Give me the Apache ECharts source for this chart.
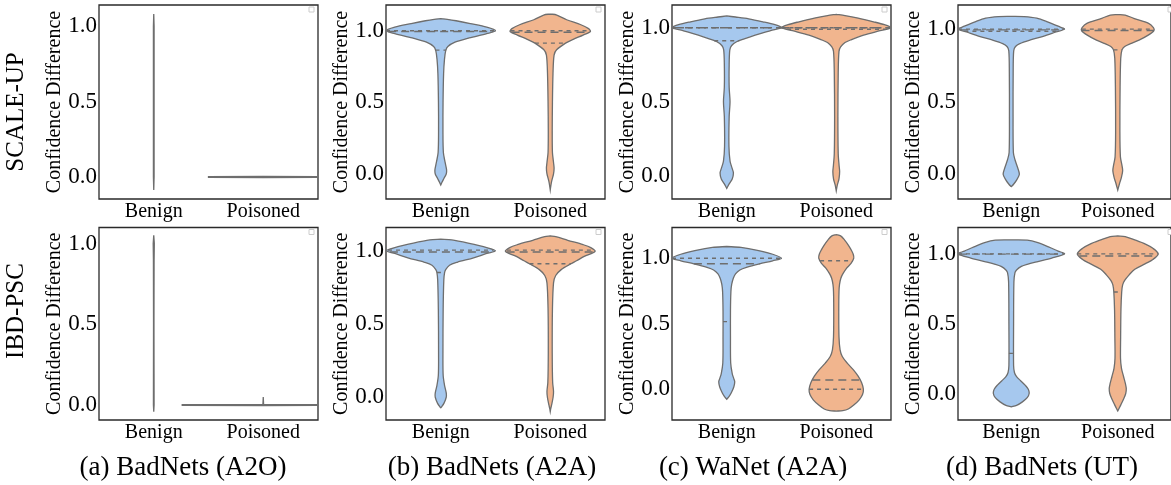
<!DOCTYPE html>
<html>
<head>
<meta charset="utf-8">
<script src="https://cdn.jsdelivr.net/npm/echarts@6/dist/echarts.min.js"></script>
<style>
  html, body { margin: 0; padding: 0; background: #fff; }
  #chart { width: 1171px; height: 485px; }
</style>
</head>
<body>
<div id="chart"></div>
<script>
const categories = ['Benign', 'Poisoned'];
const yTicks = [0, 0.5, 1.0];
const rowLabels = ['SCALE-UP', 'IBD-PSC'];
const panelTitles = ['(a) BadNets (A2O)', '(b) BadNets (A2A)', '(c) WaNet (A2A)', '(d) BadNets (UT)'];

// y axis ranges, top row then bottom row, panels a..d
const yRanges = [
  [-0.146, 1.139], [-0.175, 1.18], [-0.155, 1.153], [-0.17, 1.166],
  [-0.093, 1.099], [-0.155, 1.157], [-0.234, 1.234], [-0.19, 1.189]
];

// violin outlines: [value, half width in category units]
const upA2OBenign = [[1.08, 0], [1.0, 0.003], [0.5, 0.003], [0.0, 0.003], [-0.086, 0]];
const upA2OPoisoned = [[0.004, 0], [0.002, 0.5], [-0.002, 0.5], [-0.004, 0]];
const upA2ABenign = [[1.085, 0], [1.08, 0.06], [1.07, 0.14], [1.05, 0.27], [1.025, 0.42], [1.0, 0.5], [0.98, 0.42], [0.95, 0.26], [0.92, 0.13], [0.89, 0.065], [0.86, 0.045], [0.8, 0.034], [0.7, 0.026], [0.5, 0.021], [0.3, 0.02], [0.15, 0.024], [0.08, 0.04], [0.03, 0.053], [0.0, 0.05], [-0.03, 0.03], [-0.06, 0.01], [-0.077, 0]];
const upA2APoisoned = [[1.117, 0], [1.11, 0.06], [1.077, 0.15], [1.042, 0.28], [1.015, 0.35], [0.995, 0.367], [0.97, 0.3], [0.94, 0.21], [0.914, 0.14], [0.867, 0.058], [0.83, 0.035], [0.7, 0.025], [0.5, 0.02], [0.3, 0.018], [0.15, 0.02], [0.08, 0.03], [0.04, 0.035], [0.0, 0.03], [-0.05, 0.013], [-0.09, 0.004], [-0.112, 0]];
const upWaNetBenign = [[1.079, 0], [1.072, 0.08], [1.06, 0.2], [1.04, 0.33], [1.02, 0.44], [1.0, 0.5], [0.98, 0.4], [0.95, 0.26], [0.925, 0.16], [0.905, 0.09], [0.88, 0.045], [0.85, 0.028], [0.75, 0.022], [0.6, 0.022], [0.5, 0.03], [0.4, 0.022], [0.2, 0.02], [0.1, 0.03], [0.05, 0.05], [0.02, 0.061], [-0.02, 0.05], [-0.05, 0.025], [-0.083, 0]];
const upWaNetPoisoned = [[1.09, 0], [1.082, 0.08], [1.065, 0.2], [1.04, 0.34], [1.02, 0.44], [1.0, 0.5], [0.98, 0.4], [0.95, 0.25], [0.92, 0.14], [0.9, 0.08], [0.87, 0.04], [0.84, 0.025], [0.7, 0.018], [0.4, 0.015], [0.15, 0.018], [0.07, 0.026], [0.03, 0.031], [-0.02, 0.025], [-0.06, 0.01], [-0.1, 0]];
const upUTBenign = [[1.088, 0], [1.086, 0.12], [1.075, 0.24], [1.05, 0.34], [1.02, 0.44], [1.0, 0.5], [0.98, 0.42], [0.95, 0.3], [0.925, 0.18], [0.9, 0.08], [0.88, 0.04], [0.85, 0.023], [0.7, 0.018], [0.4, 0.017], [0.15, 0.02], [0.1, 0.035], [0.05, 0.058], [0.0, 0.076], [-0.04, 0.05], [-0.07, 0.02], [-0.085, 0]];
const upUTPoisoned = [[1.1, 0], [1.097, 0.07], [1.074, 0.15], [1.04, 0.29], [1.01, 0.335], [0.99, 0.34], [0.96, 0.29], [0.924, 0.2], [0.9, 0.12], [0.88, 0.065], [0.857, 0.04], [0.8, 0.028], [0.6, 0.022], [0.3, 0.02], [0.12, 0.025], [0.06, 0.04], [0.025, 0.046], [-0.02, 0.035], [-0.06, 0.018], [-0.108, 0]];

const psA2OBenign = [[1.05, 0], [1.0, 0.005], [0.9, 0.003], [0.5, 0.002], [0.0, 0.003], [-0.041, 0]];
const psA2OPoisoned = [[0.05, 0], [0.004, 0.003], [0.002, 0.74], [-0.002, 0.74], [-0.004, 0]];
const psA2ABenign = [[1.078, 0], [1.072, 0.1], [1.05, 0.25], [1.02, 0.42], [0.998, 0.5], [0.98, 0.42], [0.95, 0.3], [0.92, 0.15], [0.9, 0.08], [0.87, 0.045], [0.85, 0.035], [0.8, 0.028], [0.6, 0.022], [0.3, 0.02], [0.15, 0.022], [0.08, 0.035], [0.03, 0.05], [0.0, 0.05], [-0.04, 0.03], [-0.065, 0.008], [-0.071, 0]];
const psA2APoisoned = [[1.1, 0], [1.095, 0.05], [1.07, 0.16], [1.04, 0.3], [1.02, 0.37], [0.994, 0.41], [0.96, 0.31], [0.93, 0.24], [0.91, 0.19], [0.87, 0.1], [0.83, 0.05], [0.78, 0.03], [0.6, 0.02], [0.3, 0.018], [0.1, 0.022], [0.04, 0.03], [0.0, 0.026], [-0.05, 0.013], [-0.08, 0.004], [-0.098, 0]];
const psWaNetBenign = [[1.089, 0], [1.082, 0.13], [1.06, 0.28], [1.03, 0.42], [1.0, 0.5], [0.98, 0.42], [0.957, 0.3], [0.93, 0.18], [0.91, 0.12], [0.88, 0.08], [0.847, 0.06], [0.8, 0.045], [0.745, 0.038], [0.6, 0.034], [0.4, 0.034], [0.2, 0.036], [0.12, 0.05], [0.08, 0.065], [0.058, 0.073], [0.02, 0.065], [-0.02, 0.045], [-0.05, 0.025], [-0.076, 0]];
const psWaNetPoisoned = [[1.18, 0], [1.17, 0.04], [1.14, 0.075], [1.1, 0.11], [1.065, 0.135], [1.03, 0.155], [1.0, 0.16], [0.96, 0.135], [0.924, 0.095], [0.88, 0.06], [0.847, 0.042], [0.8, 0.03], [0.745, 0.025], [0.6, 0.023], [0.4, 0.025], [0.3, 0.035], [0.25, 0.055], [0.2, 0.1], [0.15, 0.155], [0.1, 0.2], [0.05, 0.232], [0.0, 0.248], [-0.04, 0.24], [-0.08, 0.21], [-0.12, 0.16], [-0.15, 0.11], [-0.163, 0.06], [-0.166, 0]];
const psUTBenign = [[1.1, 0], [1.098, 0.15], [1.08, 0.25], [1.05, 0.35], [1.02, 0.44], [1.0, 0.5], [0.97, 0.38], [0.945, 0.25], [0.925, 0.15], [0.91, 0.095], [0.885, 0.05], [0.866, 0.035], [0.8, 0.025], [0.5, 0.022], [0.2, 0.022], [0.15, 0.03], [0.12, 0.05], [0.09, 0.09], [0.06, 0.13], [0.03, 0.16], [0.0, 0.168], [-0.03, 0.15], [-0.06, 0.105], [-0.085, 0.05], [-0.096, 0]];
const psUTPoisoned = [[1.129, 0], [1.124, 0.07], [1.1, 0.16], [1.07, 0.26], [1.04, 0.33], [1.0, 0.38], [0.96, 0.33], [0.93, 0.26], [0.89, 0.16], [0.85, 0.107], [0.81, 0.065], [0.778, 0.046], [0.727, 0.037], [0.6, 0.03], [0.4, 0.027], [0.25, 0.026], [0.18, 0.035], [0.12, 0.055], [0.07, 0.072], [0.036, 0.08], [0.0, 0.075], [-0.04, 0.055], [-0.08, 0.03], [-0.125, 0]];

// quartiles: [q1, median, q3]
const upA2AQuart = [[0.865, 0.995, 1.0], [0.914, 0.99, 1.0]];
const upWaNetQuart = [[0.912, 1.0, 1.0], [0.99, 1.0, 1.0]];
const upUTQuart = [[0.985, 0.995, 1.0], [0.857, 0.99, 1.0]];
const psA2AQuart = [[0.85, 0.99, 1.003], [0.91, 0.99, 1.003]];
const psWaNetQuart = [[0.516, 0.957, 1.0], [0.0, 0.071, 0.98]];
const psUTQuart = [[0.287, 0.998, 1.0], [0.727, 0.985, 1.0]];

const panels = [
  {shapes: [upA2OBenign, upA2OPoisoned], quart: null},
  {shapes: [upA2ABenign, upA2APoisoned], quart: upA2AQuart},
  {shapes: [upWaNetBenign, upWaNetPoisoned], quart: upWaNetQuart},
  {shapes: [upUTBenign, upUTPoisoned], quart: upUTQuart},
  {shapes: [psA2OBenign, psA2OPoisoned], quart: null},
  {shapes: [psA2ABenign, psA2APoisoned], quart: psA2AQuart},
  {shapes: [psWaNetBenign, psWaNetPoisoned], quart: psWaNetQuart},
  {shapes: [psUTBenign, psUTPoisoned], quart: psUTQuart}
];

const fills = ['#a6c8ee', '#f1b58e'];
const serif = '"Liberation Serif", "Times New Roman", serif';
const lefts = [99, 386, 672, 958];
const tops = [5, 227.5];
const heights = [194, 192.5];

function widthAt(shape, v) {
  for (let i = 0; i < shape.length - 1; i++) {
    const [y0, w0] = shape[i], [y1, w1] = shape[i + 1];
    if (v <= y0 && v >= y1) {
      return y0 === y1 ? Math.max(w0, w1) : w0 + (w1 - w0) * (y0 - v) / (y0 - y1);
    }
  }
  return 0;
}

function makeRender(p) {
  return function (params, api) {
    const cat = api.value(0);
    const shape = panels[p].shapes[cat];
    const band = api.size([1, 0])[0];
    const cx = api.coord([cat, 0])[0];
    const py = y => api.coord([cat, y])[1];
    const right = shape.map(([y, w]) => [cx + w * band, py(y)]);
    const left = shape.slice().reverse().map(([y, w]) => [cx - w * band, py(y)]);
    const thin = !panels[p].quart;
    const children = [{
      type: 'polygon',
      shape: {points: right.concat(left), smooth: thin ? 0 : 0.3},
      style: {fill: thin ? '#6e6e6e' : fills[cat], stroke: '#6e6e6e', lineWidth: 1.3}
    }];
    if (panels[p].quart) {
      panels[p].quart[cat].forEach((q, k) => {
        const w = widthAt(shape, q) * band;
        children.push({
          type: 'line',
          shape: {x1: cx - w, y1: py(q), x2: cx + w, y2: py(q)},
          style: {stroke: '#6e6e6e', lineWidth: 1.4, lineDash: k === 1 ? [8, 5] : [4, 4]}
        });
      });
    }
    return {type: 'group', children: children};
  };
}

const grid = [], xAxis = [], yAxis = [], series = [], graphic = [];
panels.forEach((panel, i) => {
  const row = Math.floor(i / 4), col = i % 4;
  grid.push({
    left: lefts[col], top: tops[row], width: 219, height: heights[row],
    show: true, borderColor: '#2a2a2a', borderWidth: 1.3, backgroundColor: 'transparent'
  });
  xAxis.push({
    type: 'category', gridIndex: i, data: categories,
    axisLine: {show: false}, axisTick: {show: false}, splitLine: {show: false},
    axisLabel: {fontFamily: serif, fontSize: 20, color: '#000', margin: 3}
  });
  yAxis.push({
    type: 'value', gridIndex: i, min: yRanges[i][0], max: yRanges[i][1],
    axisLine: {show: false}, axisTick: {show: false}, splitLine: {show: false},
    axisLabel: {
      customValues: yTicks, fontFamily: serif, fontSize: 23, color: '#000', margin: 2,
      formatter: v => v.toFixed(1)
    },
    name: 'Confidence Difference', nameLocation: 'middle', nameGap: 34,
    nameTextStyle: {fontFamily: serif, fontSize: 20, color: '#000'}
  });
  series.push({
    type: 'custom', xAxisIndex: i, yAxisIndex: i, clip: true,
    renderItem: makeRender(i),
    data: [[0, 0.5], [1, 0.5]],
    encode: {x: 0, y: 1}
  });
  graphic.push({
    type: 'rect', silent: true,
    shape: {x: lefts[col] + 219 - 9, y: tops[row] + 2, width: 5, height: 5},
    style: {fill: '#fff', stroke: '#ccc', lineWidth: 1}
  });
});

rowLabels.forEach((t, r) => {
  graphic.push({
    type: 'text', x: 16, y: [112, 311][r], rotation: Math.PI / 2,
    style: {text: t, font: '25px ' + serif, fill: '#000', align: 'center', verticalAlign: 'middle'}
  });
});
panelTitles.forEach((t, c) => {
  graphic.push({
    type: 'text', x: [183, 492, 753, 1042][c], y: 468,
    style: {text: t, font: '27px ' + serif, fill: '#000', align: 'center', verticalAlign: 'middle'}
  });
});

const chart = echarts.init(document.getElementById('chart'));
chart.setOption({animation: false, grid, xAxis, yAxis, series, graphic});
</script>
</body>
</html>
